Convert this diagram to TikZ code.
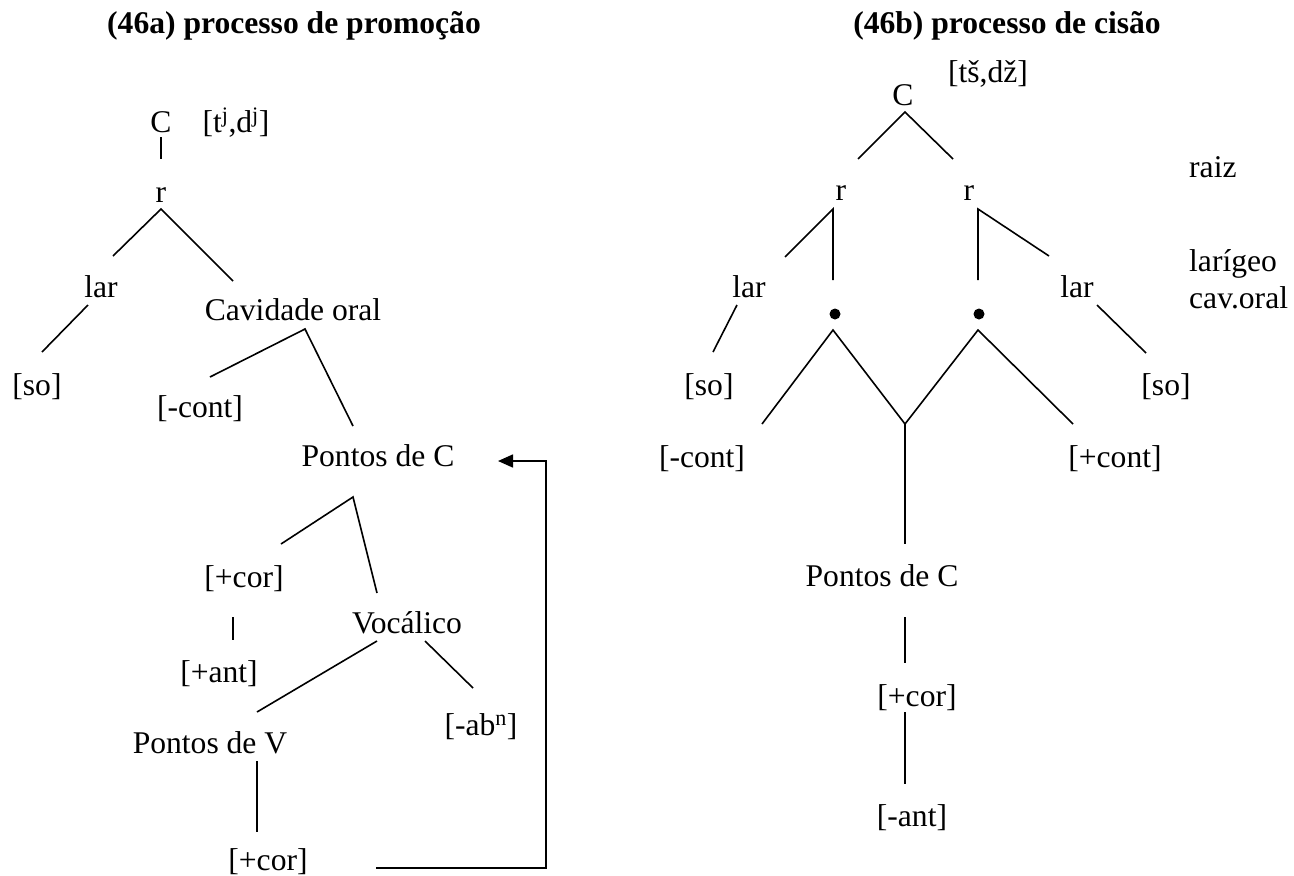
\documentclass[tikz,border=0pt]{standalone}
\usepackage{fontspec}
\setmainfont{Liberation Serif}
\usetikzlibrary{arrows.meta}
\begin{document}
\begin{tikzpicture}[x=1pt,y=-1pt,
  lbl/.style={anchor=base,inner sep=0pt,font=\fontsize{31.6}{36}\selectfont},
  lblw/.style={lbl,anchor=base west},
  ttl/.style={anchor=base,inner sep=0pt,font=\fontsize{31.6}{36}\selectfont\bfseries},
  edge/.style={line width=1.6pt},
  dot/.style={circle,fill=black,inner sep=0pt,minimum size=11pt}]
\useasboundingbox (0,0) rectangle (1294,876);

% ---------- titles ----------
\node[ttl] (ta) at (294,33) {(46a) processo de promoção};
\node[ttl] (tb) at (1007,33) {(46b) processo de cisão};

% ---------- left tree (46a) ----------
\node[lbl] (C1) at (161,132) {C};
\node[lbl] (seg1) at (236,132) {[t\textsuperscript{j},d\textsuperscript{j}]};
\node[lbl] (r1) at (161,202) {r};
\node[lbl] (lar1) at (101,297) {lar};
\node[lbl] (cav) at (293,320) {Cavidade oral};
\node[lbl] (so1) at (37,395) {[so]};
\node[lbl] (mc1) at (200,417) {[-cont]};
\node[lbl] (pc1) at (378,466) {Pontos de C};
\node[lbl] (cor1) at (244,587) {[+cor]};
\node[lbl] (ant1) at (219,682) {[+ant]};
\node[lbl] (voc) at (407,633) {Vocálico};
\node[lbl] (ab) at (481,735) {[-ab\textsuperscript{n}]};
\node[lbl] (pv) at (210,753) {Pontos de V};
\node[lbl] (cor2) at (268,870) {[+cor]};

\coordinate (a1) at (161,137); \coordinate (a2) at (161,159);
\coordinate (rA) at (161,209); \coordinate (larT) at (113,256); \coordinate (cavT) at (233,281);
\coordinate (larB) at (88,305); \coordinate (soT) at (42,352);
\coordinate (cavA) at (305,329); \coordinate (mcT) at (210,377); \coordinate (pcT) at (353,426);
\coordinate (pcA) at (353,497); \coordinate (corT) at (281,544); \coordinate (vocT) at (377,593);
\coordinate (corB) at (233,617); \coordinate (antT) at (233,640);
\coordinate (vocL) at (377,641); \coordinate (pvT) at (257,712);
\coordinate (vocR) at (425,641); \coordinate (abT) at (473,688);
\coordinate (pvB) at (257,761); \coordinate (cor2T) at (257,832);
\coordinate (arS) at (376,868); \coordinate (arK) at (546,868);
\coordinate (arL) at (546,461); \coordinate (arT) at (498,461);

\draw[edge] (a1) -- (a2);
\draw[edge] (larT) -- (rA) -- (cavT);
\draw[edge] (larB) -- (soT);
\draw[edge] (mcT) -- (cavA) -- (pcT);
\draw[edge] (corT) -- (pcA) -- (vocT);
\draw[edge] (corB) -- (antT);
\draw[edge] (vocL) -- (pvT);
\draw[edge] (vocR) -- (abT);
\draw[edge] (pvB) -- (cor2T);
\draw[edge,-{Triangle[length=15pt,width=13pt]}] (arS) -- (arK) -- (arL) -- (arT);

% ---------- right tree (46b) ----------
\node[lbl] (C2) at (903,105) {C};
\node[lbl] (seg2) at (988,82) {[tš,dž]};
\node[lbl] (rL) at (841,200) {r};
\node[lbl] (rR) at (969,200) {r};
\node[lbl] (larL) at (749,297) {lar};
\node[lbl] (larR) at (1077,297) {lar};
\node[dot] (bL) at (835,314) {};
\node[dot] (bR) at (979,314) {};
\node[lbl] (soL) at (709,395) {[so]};
\node[lbl] (soR) at (1166,395) {[so]};
\node[lbl] (mc2) at (702,467) {[-cont]};
\node[lbl] (pc2) at (1115,467) {[+cont]};
\node[lbl] (ptc2) at (882,586) {Pontos de C};
\node[lbl] (cor3) at (917,706) {[+cor]};
\node[lbl] (ant2) at (912,826) {[-ant]};
\node[lblw] (raiz) at (1189,177) {raiz};
\node[lblw] (lari) at (1189,271) {larígeo};
\node[lblw] (cavo) at (1189,308) {cav.oral};

\coordinate (CA) at (905,112); \coordinate (rLT) at (858,159); \coordinate (rRT) at (953,159);
\coordinate (rLA) at (833,209); \coordinate (larLT) at (785,257); \coordinate (bLT) at (833,280);
\coordinate (rRA) at (978,209); \coordinate (bRT) at (978,280); \coordinate (larRT) at (1049,256);
\coordinate (larLB) at (737,305); \coordinate (soLT) at (713,352);
\coordinate (larRB) at (1097,305); \coordinate (soRT) at (1146,353);
\coordinate (bLA) at (833,330); \coordinate (mc2T) at (762,424); \coordinate (jn) at (905,424);
\coordinate (bRA) at (978,330); \coordinate (pc2T) at (1073,424);
\coordinate (ptcT) at (905,544);
\coordinate (ptcB) at (905,617); \coordinate (cor3T) at (905,663);
\coordinate (cor3B) at (905,712); \coordinate (ant2T) at (905,784);

\draw[edge] (rLT) -- (CA) -- (rRT);
\draw[edge] (larLT) -- (rLA) -- (bLT);
\draw[edge] (bRT) -- (rRA) -- (larRT);
\draw[edge] (larLB) -- (soLT);
\draw[edge] (larRB) -- (soRT);
\draw[edge] (mc2T) -- (bLA) -- (jn) -- (bRA) -- (pc2T);
\draw[edge] (jn) -- (ptcT);
\draw[edge] (ptcB) -- (cor3T);
\draw[edge] (cor3B) -- (ant2T);
\end{tikzpicture}
\end{document}
